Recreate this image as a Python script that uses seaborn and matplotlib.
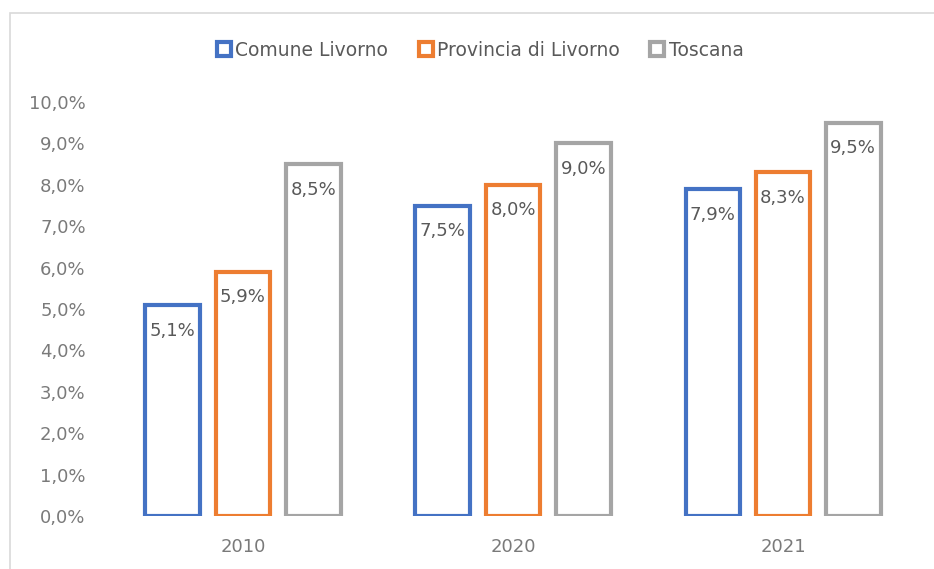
import matplotlib
matplotlib.use("Agg")
import matplotlib.pyplot as plt
from matplotlib.lines import Line2D
from matplotlib.patches import Rectangle
from matplotlib.ticker import FuncFormatter, MultipleLocator
import pandas as pd
import seaborn as sns

anni = ["2010", "2020", "2021"]
aree = ["Comune Livorno", "Provincia di Livorno", "Toscana"]
comune = [5.1, 7.5, 7.9]
provincia = [5.9, 8.0, 8.3]
toscana = [8.5, 9.0, 9.5]
colori = ["#4472C4", "#ED7D31", "#A5A5A5"]

df = pd.DataFrame({
    "anno": anni * 3,
    "area": [aree[0]] * 3 + [aree[1]] * 3 + [aree[2]] * 3,
    "valore": comune + provincia + toscana,
})

sns.set_theme(style="white")
plt.rcParams["font.family"] = ["DejaVu Sans"]
testo = "#595959"
assi = "#7a7a7a"

fig = plt.figure(figsize=(9.34, 5.69), dpi=100)
ax = fig.add_axes([0.1156, 0.0931, 0.8674, 0.7276])

sns.barplot(data=df, x="anno", y="valore", hue="area", order=anni,
            hue_order=aree, palette=colori, fill=False, linewidth=3,
            width=0.78, gap=0.22, ax=ax, legend=False, errorbar=None)

ax.set_ylim(0, 10)
ax.set_xlim(-0.5, 2.5)
ax.yaxis.set_major_locator(MultipleLocator(1))
ax.yaxis.set_major_formatter(
    FuncFormatter(lambda v, _: f"{v:.1f}%".replace(".", ",")))
for s in ax.spines.values():
    s.set_visible(False)
ax.set_xlabel("")
ax.set_ylabel("")
ax.tick_params(axis="y", length=0, pad=16, labelsize=13, labelcolor=assi)
ax.tick_params(axis="x", length=0, pad=16, labelsize=13, labelcolor=assi)
for lbl in ax.get_yticklabels():
    lbl.set_clip_on(False)

# value labels just inside the top of each bar
for cont in ax.containers:
    for bar in cont:
        h = bar.get_height()
        ax.text(bar.get_x() + bar.get_width() / 2, h - 0.62,
                f"{h:.1f}%".replace(".", ","), ha="center", va="center",
                fontsize=13, color=testo)

handles = [Line2D([], [], marker="s", linestyle="", markersize=10,
                  markerfacecolor="white", markeredgecolor=c,
                  markeredgewidth=3) for c in colori]
fig.legend(handles, aree, loc="center", bbox_to_anchor=(0.513, 0.912),
           ncol=3, frameon=False, fontsize=13.5, labelcolor=testo,
           handletextpad=0.1, columnspacing=1.5, handlelength=1.0)

# chart area frame
fig.add_artist(Rectangle((10 / 934, -0.1), 1.1, (1 - 13 / 569) + 0.1,
                         transform=fig.transFigure, fill=False,
                         edgecolor="#d9d9d9", linewidth=1.2))

fig.savefig("out.png", dpi=100)
